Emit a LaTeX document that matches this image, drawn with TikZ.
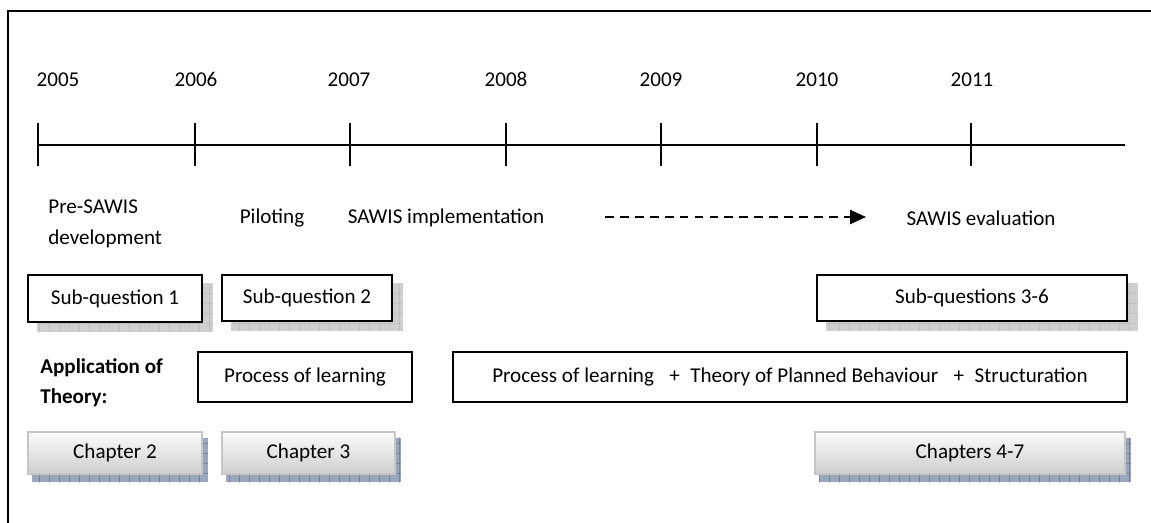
\documentclass[tikz,border=0pt]{standalone}
\usepackage{fontspec}
\setmainfont{Carlito}
\usetikzlibrary{arrows.meta,backgrounds,patterns.meta}
\definecolor{slate}{HTML}{9AA6BC}
\definecolor{navy}{HTML}{3E4E6E}

\tikzdeclarepattern{
  name=shadowgrid, type=uncolored,
  bounding box={(0,0) and (0.2cm,0.2cm)},
  tile size={(0.2cm,0.2cm)},
  code={\draw[line width=0.5pt] (0,0) -- (0.2cm,0) (0,0) -- (0,0.2cm);}
}

\tikzset{
  qbox/.style={draw, line width=1pt, fill=white, inner sep=0pt},
  chbox/.style={draw=gray!45, line width=1.2pt, top color=gray!3, bottom color=gray!38, inner sep=0pt, minimum height=0.84cm},
  qshadow/.style={fill=gray!38, postaction={pattern=shadowgrid, pattern color=gray!70}},
  chshadow/.style={fill=slate, postaction={pattern=shadowgrid, pattern color=navy}},
  tick/.style={line width=1.6pt}
}

% shadow behind a box: node, x offset, y offset, style
\newcommand{\boxshadow}[4]{%
  \fill[#4] ([shift={(#2,#3)}]#1.south west) rectangle ([shift={(#2,#3)}]#1.north east);}

\begin{document}
\begin{tikzpicture}[x=0.02cm, y=-0.02cm, font=\large]
        \useasboundingbox (0,0) rectangle (1151,523);

        % frame
        \draw[line width=1.1pt] (1151,11) -- (8,11) -- (8,523);

        % time line
        \coordinate (tl0) at (38,145);
        \coordinate (tl1) at (1125,145);
        \draw[tick] (tl0) -- (tl1);
        \foreach \x/\yr/\lx in {38/2005/58, 195/2006/196, 350/2007/349, 506/2008/506,
                                661/2009/661, 817/2010/817, 971/2011/972} {
          \draw[tick] (\x,123) -- (\x,166);
          \node[anchor=base] (y\yr) at (\lx,87) {\yr};
        }

        % phases
        \path
        (48,224) node[anchor=west, align=left, inner sep=0pt] (pre) {Pre-SAWIS\\[4pt]development}
        (272,218) node (pilot) {Piloting}
        (446,218) node (impl) {SAWIS implementation}
        (981,218) node (eval) {SAWIS evaluation}
        ;
        \coordinate (arr0) at (605,217);
        \coordinate (arr1) at (866,217);
        \draw[dashed, line width=1pt, dash pattern=on 5pt off 3.5pt, -{Triangle[length=9pt,width=8pt]}] (arr0) -- (arr1);

        % sub-questions
        \path
        (115,298.5) node[qbox, minimum width=3.48cm, minimum height=0.94cm] (sq1) {Sub-question 1}
        (307,298) node[qbox, minimum width=3.4cm, minimum height=0.92cm] (sq2) {Sub-question 2}
        (972,298) node[qbox, minimum width=6.2cm, minimum height=0.92cm] (sq36) {Sub-questions 3-6}
        ;

        % theory
        \path
        (40,383) node[anchor=west, align=left, inner sep=0pt, font=\large\bfseries] (app) {Application of\\[3pt]Theory:}
        (305,377) node[qbox, minimum width=4.28cm, minimum height=1cm] (pl1) {Process of learning}
        (790,377) node[qbox, minimum width=13.48cm, minimum height=1cm] (pl2)
          {Process of learning \enspace+\enspace Theory of Planned Behaviour \enspace+\enspace Structuration}
        ;

        % chapters
        \path
        (115,453) node[chbox, minimum width=3.48cm] (ch2) {Chapter 2}
        (308.5,453) node[chbox, minimum width=3.46cm] (ch3) {Chapter 3}
        (970,453) node[chbox, minimum width=6.2cm] (ch47) {Chapters 4-7}
        ;

        \begin{scope}[on background layer]
          \boxshadow{sq1}{10}{9}{qshadow}
          \boxshadow{sq2}{10}{9}{qshadow}
          \boxshadow{sq36}{10}{9}{qshadow}
          \boxshadow{ch2}{5}{7}{chshadow}
          \boxshadow{ch3}{5}{7}{chshadow}
          \boxshadow{ch47}{5}{7}{chshadow}
        \end{scope}
      \end{tikzpicture}
\end{document}
